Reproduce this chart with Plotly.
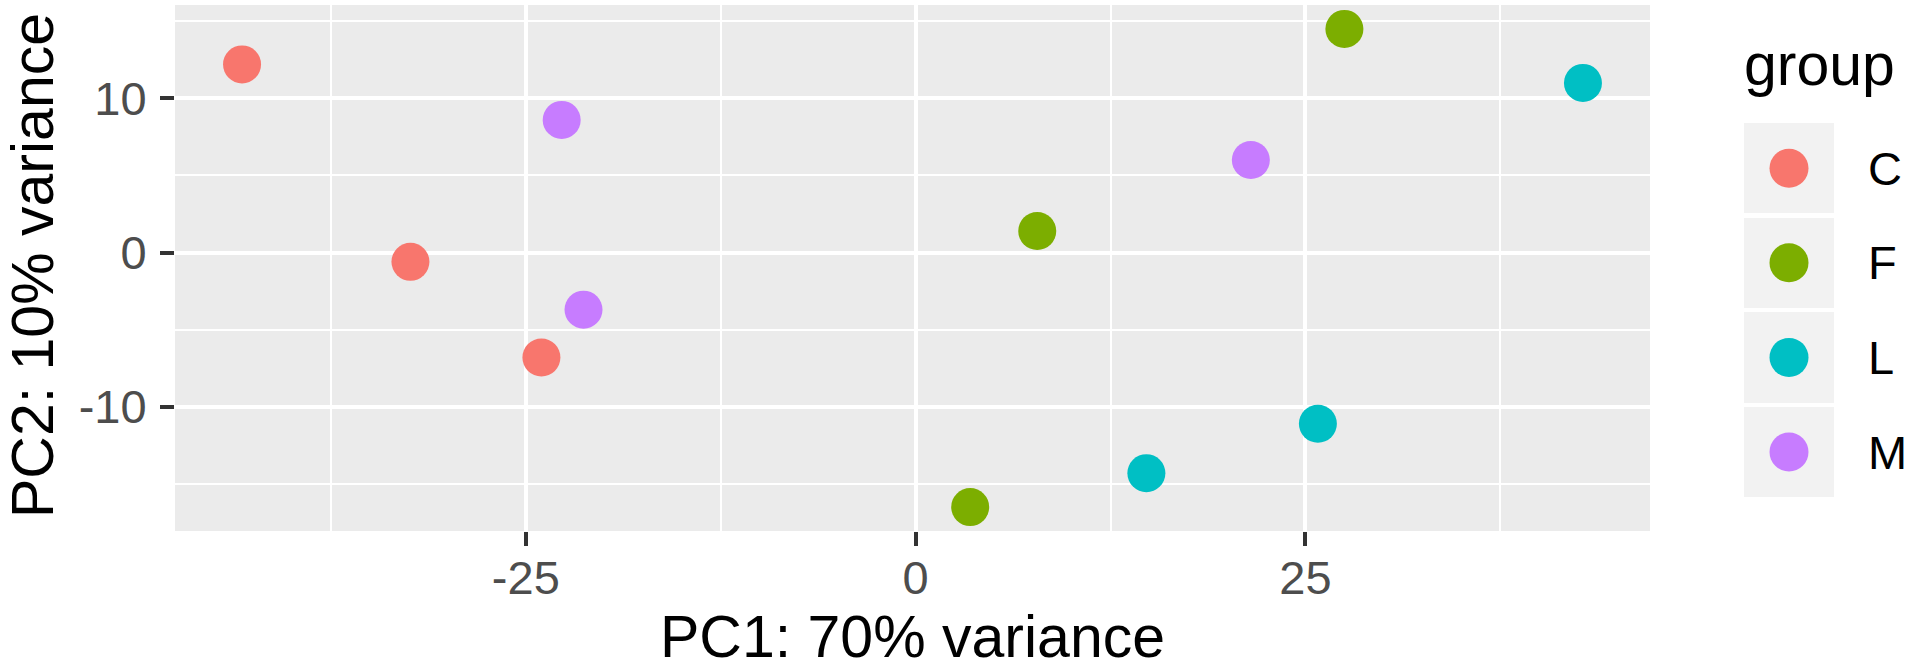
import plotly.graph_objects as go

# PCA scores
groups = ['C', 'F', 'L', 'M']
pc1_C = [-43.2, -32.4, -24.0]
pc2_C = [12.2, -0.6, -6.8]
pc1_F = [27.5, 7.8, 3.5]
pc2_F = [14.5, 1.4, -16.5]
pc1_L = [42.8, 25.8, 14.8]
pc2_L = [11.0, -11.1, -14.3]
pc1_M = [-22.7, -21.3, 21.5]
pc2_M = [8.6, -3.7, 6.0]

x_tickvals = [-25, 0, 25]
x_ticktext = ['-25', '0', '25']
y_tickvals = [-10, 0, 10]
y_ticktext = ['-10', '0', '10']

x_title = 'PC1: 70% variance'
y_title = 'PC2: 10% variance'
legend_title = 'group'

colors = {'C': '#F8766D', 'F': '#7CAE00', 'L': '#00BFC4', 'M': '#C77CFF'}
pc1 = {'C': pc1_C, 'F': pc1_F, 'L': pc1_L, 'M': pc1_M}
pc2 = {'C': pc2_C, 'F': pc2_F, 'L': pc2_L, 'M': pc2_M}

FONT = 'Liberation Sans, Arial, sans-serif'
W, H = 1912, 671
ML, MR, MT, MB = 175, 0, 5, 140
PW, PH = W - ML - MR, H - MT - MB


def px_x(p):
    return (p - ML) / PW


def px_y(p):
    return (H - MB - p) / PH


def expand(vals, mult=0.05):
    # ggplot-style 5% padding around the data
    lo, hi = min(vals), max(vals)
    pad = (hi - lo) * mult
    return [lo - pad, hi + pad]


all_x = pc1_C + pc1_F + pc1_L + pc1_M
all_y = pc2_C + pc2_F + pc2_L + pc2_M

fig = go.Figure()

# points
for g in groups:
    fig.add_trace(go.Scatter(x=pc1[g], y=pc2[g], mode='markers', name=g,
                             marker=dict(size=38, color=colors[g], line=dict(width=0)),
                             showlegend=False, xaxis='x', yaxis='y'))

# hand-built legend: grey key boxes, dots, labels
key_w = 90  # px width of a key box
leg_left = 1744
leg_span = W - leg_left
fig.add_trace(go.Bar(x=[1] * len(groups), y=groups, orientation='h', width=0.955,
                     marker=dict(color='#F2F2F2', line=dict(width=0)),
                     showlegend=False, hoverinfo='skip', xaxis='x2', yaxis='y2'))
fig.add_trace(go.Scatter(x=[0.5] * len(groups), y=groups, mode='markers',
                         marker=dict(size=39, color=[colors[g] for g in groups], line=dict(width=0)),
                         showlegend=False, hoverinfo='skip', xaxis='x2', yaxis='y2'))

tick_font = dict(family=FONT, size=47, color='#4D4D4D')
title_font = dict(family=FONT, size=59, color='#000000')

fig.update_layout(
    width=W, height=H,
    margin=dict(l=ML, r=MR, t=MT, b=MB, pad=0),
    paper_bgcolor='white', plot_bgcolor='white',
    font=dict(family=FONT),
    xaxis=dict(domain=[0, px_x(1650)], range=expand(all_x),
               tickmode='array', tickvals=x_tickvals, ticktext=x_ticktext,
               showgrid=True, gridcolor='white', gridwidth=3.5, zeroline=False, showline=False,
               ticks='outside', ticklen=14, tickwidth=3.5, tickcolor='#333333',
               tickfont=tick_font, ticklabelstandoff=-8,
               minor=dict(dtick=12.5, tick0=0, showgrid=True, gridcolor='white', gridwidth=1.75, ticks=''),
               anchor='y'),
    yaxis=dict(domain=[0, 1], range=expand(all_y),
               tickmode='array', tickvals=y_tickvals, ticktext=y_ticktext,
               showgrid=True, gridcolor='white', gridwidth=3.5, zeroline=False, showline=False,
               ticks='outside', ticklen=14, tickwidth=3.5, tickcolor='#333333',
               tickfont=tick_font, ticklabelstandoff=4,
               minor=dict(dtick=5, tick0=0, showgrid=True, gridcolor='white', gridwidth=1.75, ticks=''),
               anchor='x'),
    xaxis2=dict(domain=[px_x(leg_left), 1.0], range=[0, leg_span / key_w], visible=False,
                fixedrange=True, anchor='y2'),
    yaxis2=dict(domain=[px_y(499.3), px_y(120.9)], type='category', categoryorder='array',
                categoryarray=groups, range=[3.5, -0.5], visible=False,
                fixedrange=True, anchor='x2'),
    bargap=0,
    shapes=[dict(type='rect', xref='x domain', yref='y domain', x0=0, x1=1, y0=0, y1=1,
                 fillcolor='#EBEBEB', line=dict(width=0), layer='below')],
)

annotations = [
    dict(text=x_title, xref='paper', yref='paper', x=px_x(912.5), y=px_y(637),
         xanchor='center', yanchor='middle', showarrow=False, font=title_font),
    dict(text=y_title, xref='paper', yref='paper', x=px_x(33), y=px_y(266),
         xanchor='center', yanchor='middle', textangle=-90, showarrow=False, font=title_font),
    dict(text=legend_title, xref='paper', yref='paper', x=px_x(1742), y=px_y(65),
         xanchor='left', yanchor='middle', showarrow=False, font=title_font),
]
for i, g in enumerate(groups):
    annotations.append(dict(text=g, xref='x2', yref='y2', x=(1866 - leg_left) / key_w, y=i,
                            xanchor='left', yanchor='middle', showarrow=False,
                            font=dict(family=FONT, size=47, color='#000000')))
fig.update_layout(annotations=annotations)

# drop the browser's default 8px body margin so the figure sits at the page corner
fig.write_html('out.html', config={'displayModeBar': False},
               post_script="document.body.style.margin = '0';")
